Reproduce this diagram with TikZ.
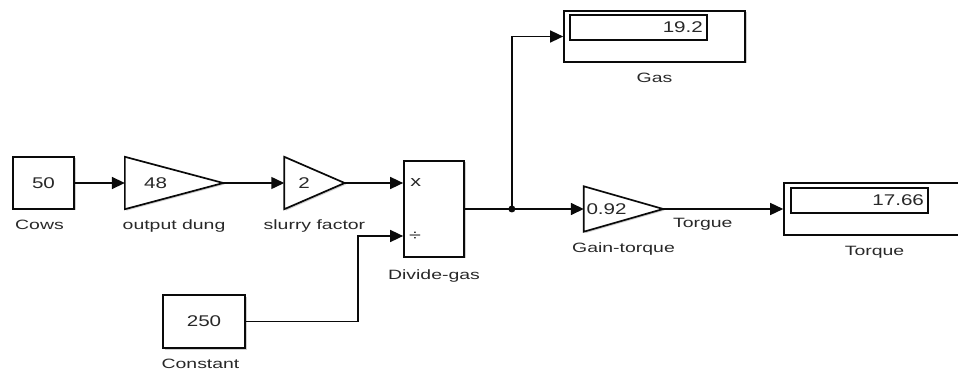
\documentclass[tikz,border=0pt]{standalone}
\usepackage{fontspec}
\setmainfont{Liberation Sans}
\newfontfamily\lblfont{Liberation Sans}[FakeStretch=1.44]
\newfontfamily\numfont{Liberation Sans}[FakeStretch=1.33]
\usepackage{tikz}
\usetikzlibrary{arrows.meta, positioning, calc, shadows}
\definecolor{simline}{RGB}{10,10,10}
\definecolor{simtext}{RGB}{40,40,40}
\definecolor{simshadow}{RGB}{150,150,150}
\tikzset{
  blkshadow/.style={drop shadow={shadow xshift=1.5pt, shadow yshift=-1.5pt,
    fill=simshadow, opacity=0.45}},
  srcblock/.style={rectangle, draw=simline, fill=white, line width=1.7pt,
    inner sep=0pt, font=\numfont\fontsize{15.5}{18}\selectfont, text=simtext, blkshadow},
  opblock/.style={rectangle, draw=simline, fill=white, line width=1.7pt,
    inner sep=0pt, blkshadow},
  dispblock/.style={rectangle, draw=simline, fill=white, line width=1.7pt,
    inner sep=0pt, blkshadow},
  dispbox/.style={rectangle, draw=simline, line width=1.5pt, minimum width=137pt,
    minimum height=25pt, text width=129pt, inner xsep=4pt, inner ysep=0pt, align=right,
    font=\numfont\fontsize{15.5}{18}\selectfont, text=simtext},
  gainbox/.style={rectangle, draw=none, inner sep=0pt},
  gainline/.style={draw=simline, fill=white, line width=1.7pt, line join=miter, blkshadow},
  gainval/.style={inner sep=0pt, font=\numfont\fontsize{15.5}{18}\selectfont, text=simtext},
  signlbl/.style={inner sep=0pt, font=\lblfont\fontsize{15}{18}\selectfont, text=simtext},
  blklbl/.style={inner sep=1pt, text height=9.7pt, text depth=2.8pt,
    font=\lblfont\fontsize{13.5}{16}\selectfont, text=simtext},
  sig/.style={-{Triangle[length=13pt, width=12pt]}, line width=1.5pt, color=simline},
  sigline/.style={line width=1.5pt, color=simline}
}

\begin{document}
\begin{tikzpicture}[x=1pt, y=-1pt]
  \path[use as bounding box, clip] (0,0) rectangle (958,371);

  % Blocks
  \node[srcblock, minimum width=61pt, minimum height=52pt] (cows) at (43.5,183) {50};
  \node[gainbox, minimum width=98pt, minimum height=52pt, right=50pt of cows] (dung) {};
  \node[gainbox, minimum width=60pt, minimum height=52pt, right=61pt of dung] (slurry) {};
  \node[opblock, minimum width=60pt, minimum height=96pt] (div) at (434,209) {};
  \node[srcblock, minimum width=82pt, minimum height=53pt] (const) at (204,321.5) {250};
  \node[gainbox, minimum width=79pt, minimum height=45pt] (gtq) at (623.5,209) {};
  \node[dispblock, minimum width=181pt, minimum height=51pt] (gas) at (654.5,36.5) {};
  \node[dispblock, minimum width=181pt, minimum height=52pt, right=120pt of gtq] (torque) {};

  % Gain triangles
  \foreach \g in {dung, slurry, gtq}
    \draw[gainline] (\g.north west) -- (\g.east) -- (\g.south west) -- cycle;
  \node[gainval, right=19pt of dung.west] (dungval) {48};
  \node[gainval, right=14pt of slurry.west] (slurryval) {2};
  \node[gainval, right=2.5pt of gtq.west] (gtqval) {0.92};

  % Displays
  \node[dispbox, anchor=north west] (gasdisp) at ([xshift=6pt, yshift=-4pt]gas.north west) {19.2};
  \node[dispbox, anchor=north west] (torquedisp) at ([xshift=7pt, yshift=-5pt]torque.north west) {17.66};

  % Ports
  \coordinate (divin1) at (div.west |- slurry.east);
  \coordinate (divin2) at ([yshift=-27pt]div.west);
  \coordinate (jct) at ([xshift=47pt]div.east);
  \node[signlbl] (mul) at ([xshift=12.5pt]divin1) {x};
  \node[signlbl] (dvd) at ([xshift=12pt]divin2) {÷};

  % Labels
  \node[blklbl, below=9pt of cows, xshift=-4pt] (cowslbl) {Cows};
  \node[blklbl, below=9pt of dung] (dunglbl) {output dung};
  \node[blklbl, below=9pt of slurry] (slurrylbl) {slurry factor};
  \node[blklbl, below=10.5pt of div] (divlbl) {Divide-gas};
  \node[blklbl, below=8.5pt of const, xshift=-3.5pt] (constlbl) {Constant};
  \node[blklbl, below=9pt of gas] (gaslbl) {Gas};
  \node[blklbl, below=9.5pt of gtq] (gtqlbl) {Gain-torque};
  \node[blklbl, below=9pt of torque] (torquelbl) {Torque};

  % Signals
  \draw[sig] (cows.east) -- (dung.west);
  \draw[sig] (dung.east) -- (slurry.west);
  \draw[sig] (slurry.east) -- (divin1);
  \draw[sig] (const.east) -- ++(112,0) |- (divin2);
  \draw[sigline] (div.east) -- (jct);
  \draw[sig] (jct) -- (gtq.west);
  \draw[sig] (jct) |- (gas.west);
  \fill[simline] (jct) circle (3.5pt);
  \draw[sig] (gtq.east) -- (torque.west)
    node[blklbl, pos=0.33, below=7pt] {Torgue};
\end{tikzpicture}
\end{document}
